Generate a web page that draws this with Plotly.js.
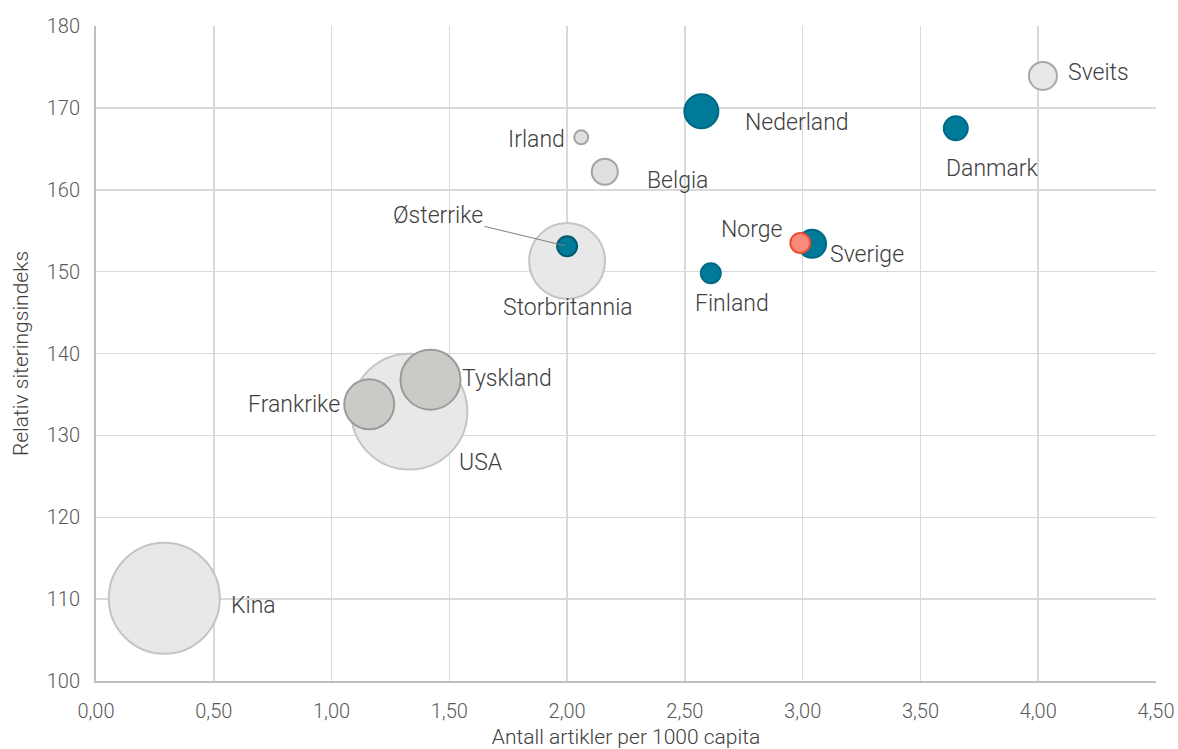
<!DOCTYPE html>
<html>
<head>
<meta charset="utf-8">
<script src="https://cdn.plot.ly/plotly-3.0.1.min.js"></script>
<style>html,body{margin:0;padding:0;background:#fff}#chart{width:1178px;height:749px}</style>
</head>
<body>
<div id="chart"></div>
<script>
// Data
const countries = ["Kina","USA","Storbritannia","Sveits","Tyskland","Frankrike","Irland","Belgia","Nederland","Danmark","Finland","Sverige","Østerrike","Norge"];
const articlesPer1000 = [0.29, 1.33, 2.00, 4.02, 1.42, 1.16, 2.06, 2.16, 2.57, 3.65, 2.61, 3.04, 2.00, 2.99];
const citationIndex = [110.1, 132.9, 151.3, 173.9, 136.8, 133.8, 166.4, 162.2, 169.6, 167.5, 149.8, 153.4, 153.1, 153.5];
const volume = [3080, 3360, 1440, 196, 900, 625, 49, 169, 289, 144, 100, 196, 100, 100];
const group = ["stor","stor","stor","stor","mellom","mellom","liten","liten","norden","norden","norden","norden","norden","norge"];

const styles = {
  stor:   {fill:"#e8e8e8", line:"#c4c4c4"},
  mellom: {fill:"#c9cbc7", line:"#9a9c99"},
  liten:  {fill:"#dfe0dd", line:"#a3a5a2"},
  norden: {fill:"#007a99", line:"#006a86"},
  norge:  {fill:"#f98b7b", line:"#ee4b30"}
};
const lineOverride = {"Sveits":"#a8a8a8","Østerrike":"#005a72"};

const traces = Object.keys(styles).map(g => {
  const idx = countries.map((c,i)=>i).filter(i => group[i]===g);
  return {
    type: "scatter", mode: "markers", hoverinfo: "text",
    x: idx.map(i=>articlesPer1000[i]),
    y: idx.map(i=>citationIndex[i]),
    text: idx.map(i=>countries[i]),
    marker: {
      size: idx.map(i=>volume[i]),
      sizemode: "area", sizeref: 0.5,
      color: styles[g].fill,
      opacity: 1,
      line: {color: idx.map(i=>lineOverride[countries[i]]||styles[g].line), width: 2}
    }
  };
});

// Label offsets (pixels relative to each point)
const labelPos = {
  "Sveits":{xa:"left",dx:23,dy:3},
  "Nederland":{xa:"left",dx:42,dy:-11},
  "Irland":{xa:"right",dx:-14,dy:-2},
  "Belgia":{xa:"left",dx:40,dy:-9},
  "Danmark":{xa:"left",dx:-12,dy:-40},
  "Norge":{xa:"right",dx:-15,dy:13},
  "Sverige":{xa:"left",dx:16,dy:-11},
  "Storbritannia":{xa:"center",dx:1,dy:-47},
  "Finland":{xa:"center",dx:21,dy:-30},
  "Tyskland":{xa:"left",dx:30,dy:1},
  "Frankrike":{xa:"right",dx:-27,dy:0},
  "USA":{xa:"left",dx:48,dy:-51},
  "Kina":{xa:"left",dx:65,dy:-7}
};
const FONT = "Roboto, 'Open Sans', sans-serif";
const labelFont = {family:FONT, size:23, color:"#404040", weight:300};
const annotations = countries.map((c,i)=>{
  if (c === "Østerrike") {
    return {x:articlesPer1000[i], y:citationIndex[i], xref:"x", yref:"y", text:c,
      showarrow:true, arrowhead:0, arrowwidth:1, arrowcolor:"#7f7f7f",
      ax:-129, ay:-31, standoff:2, font:labelFont};
  }
  const p = labelPos[c];
  return {x:articlesPer1000[i], y:citationIndex[i], xref:"x", yref:"y", text:c,
    showarrow:false, xanchor:p.xa, yanchor:"middle", xshift:p.dx, yshift:p.dy, font:labelFont};
});

const tickFont = {family:FONT, size:20, color:"#595959", weight:300};
const titleFont = {family:FONT, size:21, color:"#404040", weight:300};
const layout = {
  width:1178, height:749,
  margin:{l:96, r:22, t:26, b:68},
  paper_bgcolor:"#fff", plot_bgcolor:"#fff",
  showlegend:false,
  separators:", ",
  xaxis:{
    range:[0,4.5], dtick:0.5, tick0:0, tickformat:".2f",
    showgrid:true, gridcolor:"#d9d9d9", gridwidth:1.5,
    zeroline:false, showline:true, linecolor:"#bfbfbf", linewidth:2,
    ticks:"", ticklabelstandoff:11, tickfont:tickFont,
    title:{text:"Antall artikler per 1000 capita", font:titleFont, standoff:10}
  },
  yaxis:{
    range:[100,180], dtick:10, tick0:100,
    showgrid:true, gridcolor:"#d9d9d9", gridwidth:1.5,
    zeroline:false, showline:true, linecolor:"#bfbfbf", linewidth:2,
    ticks:"", ticklabelstandoff:10, tickfont:tickFont,
    title:{text:"Relativ siteringsindeks", font:titleFont, standoff:12}
  },
  annotations: annotations
};

Plotly.newPlot("chart", traces, layout, {displayModeBar:false, staticPlot:true});
</script>
</body>
</html>
